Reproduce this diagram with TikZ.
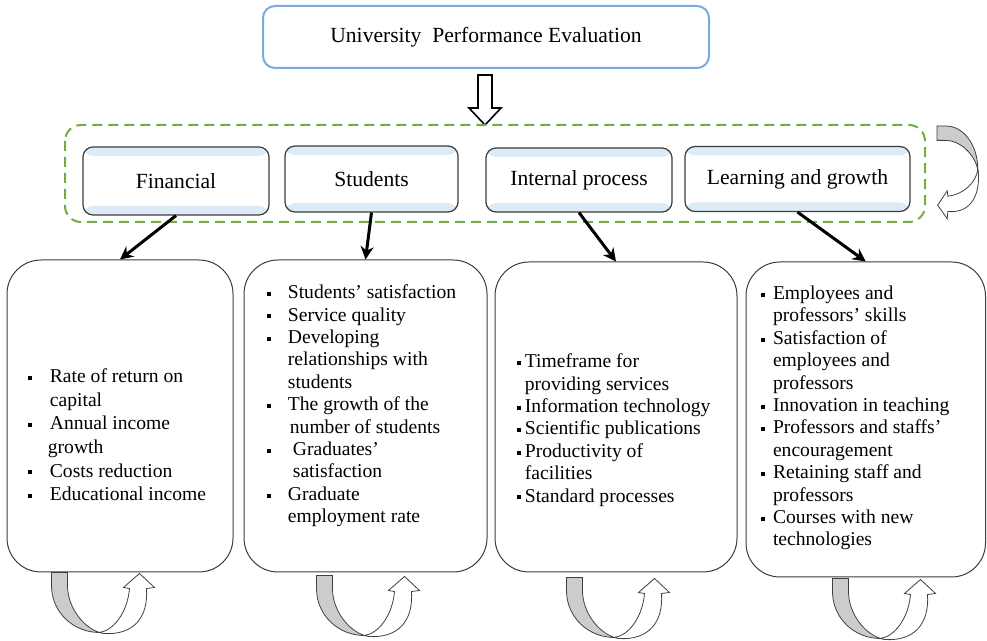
\documentclass[tikz,border=0pt]{standalone}
\usepackage{fontspec}
\setmainfont{Liberation Serif}
\usetikzlibrary{arrows.meta}

\definecolor{titleblue}{RGB}{125,170,220}
\definecolor{bandblue}{RGB}{221,235,247}
\definecolor{dashgreen}{RGB}{112,173,71}
\definecolor{boxgray}{RGB}{60,60,60}

% square bullet, and a bullet set in a box of given width
\newcommand{\sq}{\rule[1.3pt]{2pt}{2pt}}
\newcommand{\bul}[1]{\makebox[#1][l]{\sq}}

\tikzset{
  turnarrow/.pic={
    \filldraw[fill=gray!40, draw=black!75, line width=0.4pt]
      (0,0) -- (0,13) .. controls (0,40) and (22,60) .. (48,60)
      .. controls (32,55) and (16,35) .. (16,13) -- (16,0) -- cycle;
    \filldraw[fill=white, draw=black!75, line width=0.4pt]
      (48,60) .. controls (62,58) and (76,40) .. (78,16) -- (72,15) -- (88,1)
      -- (103,15) -- (95,16) .. controls (97,45) and (82,63) .. (52,61) -- cycle;
  }
}

\begin{document}
\begin{tikzpicture}[x=0.5pt,y=-0.5pt,
  title/.style={draw=titleblue, line width=1pt, rounded corners=6pt, minimum width=223pt,
    minimum height=31pt, font=\fontsize{10.8}{13}\selectfont},
  cat/.style={draw=boxgray, line width=0.6pt, rounded corners=5pt, fill=white, minimum height=33pt,
    font=\fontsize{10.8}{13}\selectfont,
    path picture={
      \fill[bandblue] (path picture bounding box.north west) rectangle ([yshift=-4.5pt]path picture bounding box.north east);
      \fill[bandblue] (path picture bounding box.south west) rectangle ([yshift=4.5pt]path picture bounding box.south east);
    }},
  group/.style={draw=dashgreen, line width=1pt, dash pattern=on 5pt off 3pt, rounded corners=8pt},
  bigbox/.style={draw=boxgray, line width=0.5pt, rounded corners=17pt},
  items/.style={align=left, inner sep=0pt, anchor=north west, font=\fontsize{9.8}{11.2}\selectfont},
  link/.style={line width=1.5pt, -{Stealth[length=6.5pt,width=6.5pt]}}]
  \useasboundingbox (0,0) rectangle (987,641);

  \node[title] (uni) at (486,37) {University\ \ Performance Evaluation};
  \draw[line width=0.8pt] (478,75) -- (478,108) -- (469,108) -- (485,125) -- (501,108) -- (492,108) -- (492,75) -- cycle;

  % the four perspectives
  \draw[group] (65,125) rectangle (925,222);
  \node[cat, minimum width=93pt, minimum height=34pt] (fin) at (176,181) {Financial};
  \node[cat, minimum width=86.5pt] (stu) at (371.5,179) {Students};
  \node[cat, minimum width=93pt, minimum height=32pt] (int) at (579,180) {Internal process};
  \node[cat, minimum width=112.5pt, minimum height=32.5pt] (lea) at (797.5,179) {Learning and growth};
  \pic[rotate=-90, xscale=0.9, yscale=-0.68] at (937,126) {turnarrow};

  % indicator boxes
  \node[bigbox, minimum width=113pt, minimum height=156pt] (fin-box) at (120,416) {};
  \node[bigbox, minimum width=121.5pt, minimum height=156pt] (stu-box) at (365.5,416) {};
  \node[bigbox, minimum width=121pt, minimum height=155pt] (int-box) at (616,417) {};
  \node[bigbox, minimum width=119.75pt, minimum height=157.5pt] (lea-box) at (865.75,419.5) {};

  \foreach \a in {fin,stu,int,lea}
    \draw[link] (\a.south) -- (\a-box.north);

  \node[items, font=\fontsize{9.8}{11.8}\selectfont] (fin-list) at ([shift={(21,109)}]fin-box.north west) {%
    \bul{11pt}Rate of return on\\
    \hspace{11pt}capital\\
    \bul{11pt}Annual income\\
    \hspace{10pt}growth\\
    \bul{11pt}Costs reduction\\
    \bul{11pt}Educational income};
  \node[items] (stu-list) at ([shift={(23,25)}]stu-box.north west) {%
    \bul{10.5pt}Students' satisfaction\\
    \bul{10.5pt}Service quality\\
    \bul{10.5pt}Developing\\
    \hspace{10.5pt}relationships with\\
    \hspace{10.5pt}students\\
    \bul{10.5pt}The growth of the\\
    \hspace{11.5pt}number of students\\
    \bul{13pt}Graduates'\\
    \hspace{13pt}satisfaction\\
    \bul{10.5pt}Graduate\\
    \hspace{10.5pt}employment rate};
  \node[items] (int-list) at ([shift={(22,92)}]int-box.north west) {%
    \bul{4pt}Timeframe for\\
    \hspace{4pt}providing services\\
    \bul{4pt}Information technology\\
    \bul{4pt}Scientific publications\\
    \bul{4pt}Productivity of\\
    \hspace{4pt}facilities\\
    \bul{4pt}Standard processes};
  \node[items] (lea-list) at ([shift={(15.5,24)}]lea-box.north west) {%
    \bul{5.8pt}Employees and\\
    \hspace{5.8pt}professors' skills\\
    \bul{5.8pt}Satisfaction of\\
    \hspace{5.8pt}employees and\\
    \hspace{5.8pt}professors\\
    \bul{5.8pt}Innovation in teaching\\
    \bul{5.8pt}Professors and staffs'\\
    \hspace{5.8pt}encouragement\\
    \bul{5.8pt}Retaining staff and\\
    \hspace{5.8pt}professors\\
    \bul{5.8pt}Courses with new\\
    \hspace{5.8pt}technologies};

  % feedback loops under each box
  \foreach \b/\dx/\dy in {fin-box/45/0, stu-box/73/3, int-box/72/5, lea-box/87/1}
    \pic at ([shift={(\dx,\dy)}]\b.south west) {turnarrow};
\end{tikzpicture}
\end{document}
